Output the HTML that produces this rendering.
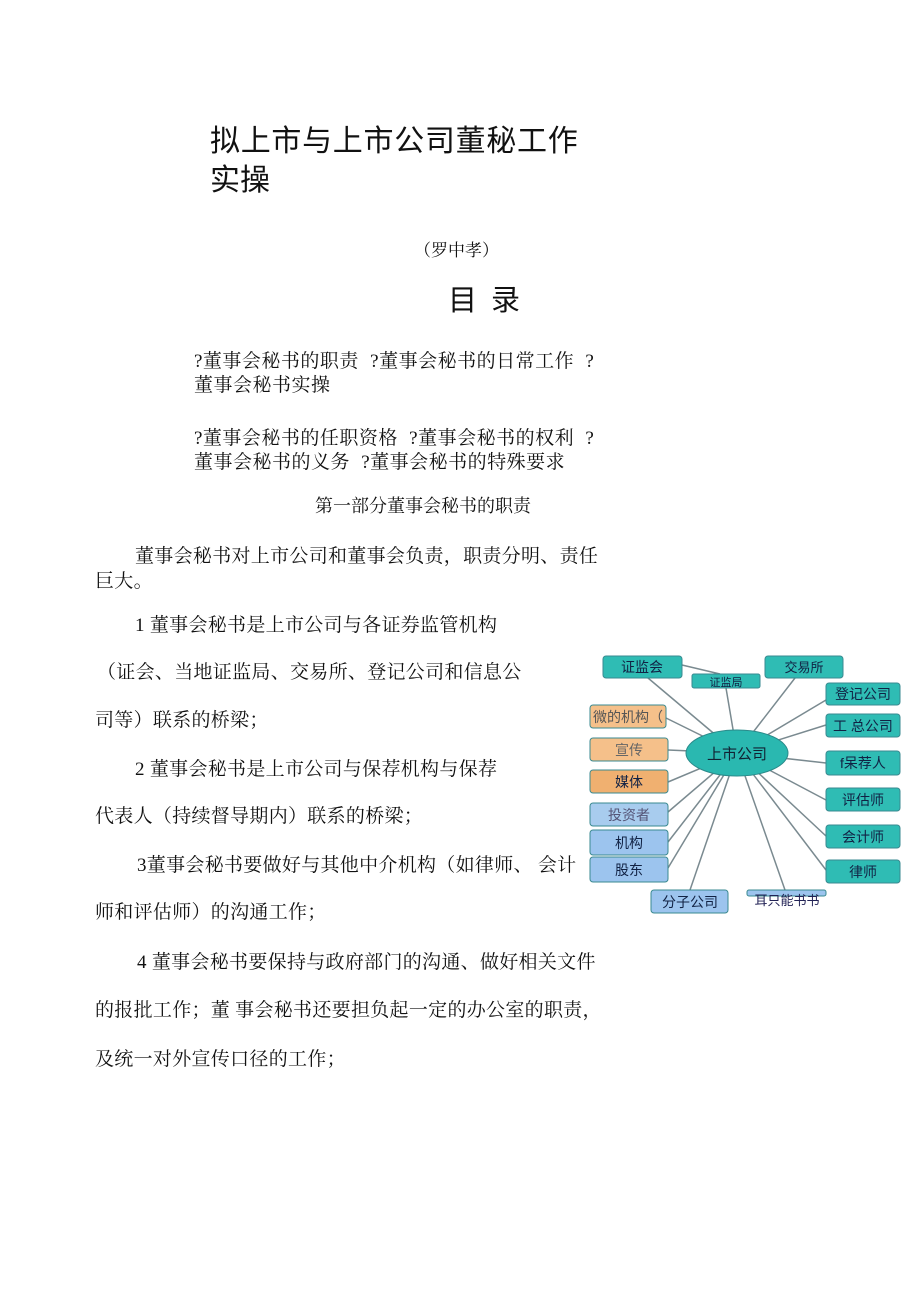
<!DOCTYPE html>
<html><head><meta charset="utf-8"><style>
body{margin:0;background:#fff;}
#p{position:relative;width:920px;height:1303px;overflow:hidden;font-family:"Liberation Serif","Noto Serif CJK SC","Noto Sans CJK SC",serif;color:#111;}
.t{position:absolute;white-space:nowrap;line-height:1;}
.b{font-size:19px;letter-spacing:0.3px;}
.c{font-size:19px;letter-spacing:0.5px;word-spacing:6px;}
</style></head><body><div id="p">
<div class="t" style="left:210px;top:127px;font-size:30px;letter-spacing:0.7px;font-family:'Liberation Sans','Noto Sans CJK SC',sans-serif;">拟上市与上市公司董秘工作</div>
<div class="t" style="left:210px;top:166px;font-size:30px;font-family:'Liberation Sans','Noto Sans CJK SC',sans-serif;">实操</div>
<div class="t" style="left:414px;top:242px;font-size:17px;">（罗中孝）</div>
<div class="t" style="left:448px;top:287px;font-size:29px;letter-spacing:3px;font-family:'Liberation Sans','Noto Sans CJK SC',sans-serif;">目 录</div>
<div class="t c" style="left:194px;top:352px;">?董事会秘书的职责 ?董事会秘书的日常工作 ?</div>
<div class="t c" style="left:194px;top:376px;">董事会秘书实操</div>
<div class="t c" style="left:194px;top:429px;">?董事会秘书的任职资格 ?董事会秘书的权利 ?</div>
<div class="t c" style="left:194px;top:453px;">董事会秘书的义务 ?董事会秘书的特殊要求</div>
<div class="t" style="left:315px;top:497px;font-size:18px;">第一部分董事会秘书的职责</div>
<div class="t b" style="left:135px;top:547px;">董事会秘书对上市公司和董事会负责，职责分明、责任</div>
<div class="t b" style="left:95px;top:572px;">巨大。</div>
<div class="t b" style="left:135px;top:616px;">1 董事会秘书是上市公司与各证券监管机构</div>
<div class="t b" style="left:97px;top:663px;">（证会、当地证监局、交易所、登记公司和信息公</div>
<div class="t b" style="left:95px;top:711px;">司等）联系的桥梁；</div>
<div class="t b" style="left:135px;top:760px;">2 董事会秘书是上市公司与保荐机构与保荐</div>
<div class="t b" style="left:95px;top:807px;">代表人（持续督导期内）联系的桥梁；</div>
<div class="t b" style="left:137px;top:856px;">3董事会秘书要做好与其他中介机构（如律师、 会计</div>
<div class="t b" style="left:95px;top:903px;">师和评估师）的沟通工作；</div>
<div class="t b" style="left:137px;top:953px;">4 董事会秘书要保持与政府部门的沟通、做好相关文件</div>
<div class="t b" style="left:95px;top:1001px;">的报批工作；董 事会秘书还要担负起一定的办公室的职责，</div>
<div class="t b" style="left:95px;top:1050px;">及统一对外宣传口径的工作；</div>

<svg style="position:absolute;left:0;top:0" width="920" height="1303" font-family="Liberation Sans,Noto Sans CJK SC,sans-serif" font-size="14">
<g stroke="#7a8a90" stroke-width="1.5">
<line x1="737" y1="753" x2="648" y2="678"/><line x1="737" y1="753" x2="726" y2="688"/>
<line x1="737" y1="753" x2="795" y2="678"/><line x1="737" y1="753" x2="826" y2="700"/>
<line x1="737" y1="753" x2="826" y2="725"/><line x1="737" y1="753" x2="666" y2="718"/>
<line x1="737" y1="753" x2="668" y2="750"/><line x1="737" y1="753" x2="668" y2="782"/>
<line x1="737" y1="753" x2="668" y2="812"/><line x1="737" y1="753" x2="668" y2="842"/>
<line x1="737" y1="753" x2="668" y2="868"/><line x1="737" y1="753" x2="690" y2="890"/>
<line x1="737" y1="753" x2="785" y2="890"/><line x1="737" y1="753" x2="826" y2="763"/>
<line x1="737" y1="753" x2="826" y2="800"/><line x1="737" y1="753" x2="826" y2="836"/>
<line x1="737" y1="753" x2="826" y2="870"/><line x1="682" y1="665" x2="720" y2="674"/>
</g>
<ellipse cx="737" cy="753" rx="51" ry="23" fill="#2ab8b0" stroke="#2a8a8a"/>
<text x="737" y="759" text-anchor="middle" fill="#123" font-size="15">上市公司</text>
<g stroke="#3a8a90" stroke-width="1">
<rect x="603" y="656" width="79" height="22" rx="3" fill="#2fbcb4"/>
<rect x="692" y="674" width="68" height="14" rx="2" fill="#2fbcb4"/>
<rect x="765" y="656" width="78" height="22" rx="3" fill="#2fbcb4"/>
<rect x="826" y="683" width="74" height="22" rx="3" fill="#2fbcb4"/>
<rect x="826" y="714" width="74" height="23" rx="3" fill="#2fbcb4"/>
<rect x="826" y="751" width="74" height="24" rx="3" fill="#2fbcb4"/>
<rect x="826" y="788" width="74" height="23" rx="3" fill="#2fbcb4"/>
<rect x="826" y="825" width="74" height="23" rx="3" fill="#2fbcb4"/>
<rect x="826" y="860" width="74" height="23" rx="3" fill="#2fbcb4"/>
<rect x="590" y="705" width="76" height="23" rx="3" fill="#f5c08a"/>
<rect x="590" y="738" width="78" height="23" rx="3" fill="#f5c08a"/>
<rect x="590" y="770" width="78" height="23" rx="3" fill="#f0b070"/>
<rect x="590" y="803" width="78" height="23" rx="3" fill="#a8ccee"/>
<rect x="590" y="830" width="78" height="25" rx="3" fill="#9cc4ee"/>
<rect x="590" y="857" width="78" height="25" rx="3" fill="#9cc4ee"/>
<rect x="651" y="890" width="77" height="23" rx="3" fill="#9cc4ee"/>
<rect x="747" y="890" width="79" height="6" rx="2" fill="#9cc4ee"/>
</g>
<g fill="#124" text-anchor="middle">
<text x="642" y="672">证监会</text><text x="726" y="686" font-size="11">证监局</text>
<text x="804" y="672" font-size="13">交易所</text><text x="863" y="699">登记公司</text>
<text x="863" y="731">工 总公司</text><text x="863" y="768">f呆荐人</text>
<text x="863" y="805">评估师</text><text x="863" y="842">会计师</text><text x="863" y="877">律师</text>
<text x="628" y="722" fill="#555">微的机构（</text><text x="629" y="755" fill="#666">宣传</text>
<text x="629" y="787">媒体</text><text x="629" y="820" fill="#557">投资者</text>
<text x="629" y="848">机构</text><text x="629" y="875">股东</text>
<text x="690" y="907">分子公司</text><text x="787" y="905" fill="#225" font-size="13">耳只能书书</text>
</g>
</svg>
</div></body></html>
